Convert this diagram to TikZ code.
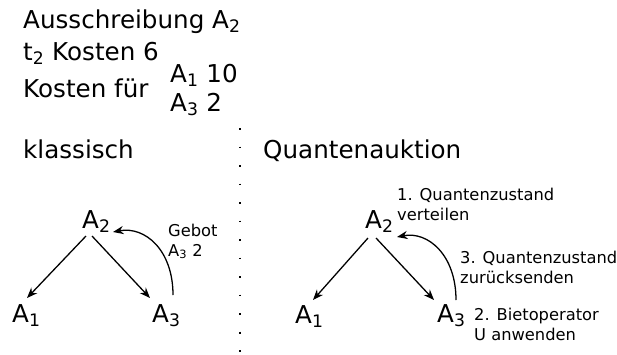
\documentclass[tikz,border=0pt]{standalone}
\usepackage{fontspec}
\setmainfont{DejaVu Sans}
\usetikzlibrary{arrows.meta}

\newcommand{\bigtxt}{\fontsize{21}{25}\selectfont}
\newcommand{\smalltxt}{\fontsize{13.9}{16.6}\selectfont}

\begin{document}
\begin{tikzpicture}[
    x=0.03cm, y=-0.03cm,
    big/.style={font=\bigtxt, inner sep=0pt, anchor=base west},
    small/.style={font=\smalltxt, inner sep=0pt, anchor=base west, align=left},
    arr/.style={-{Stealth[length=9pt, width=7pt]}, line width=1.1pt},
]
    \useasboundingbox (0,0) rectangle (617,354);

    % Header
    \node[big] (title) at (23,28) {Ausschreibung A\textsubscript{2}};
    \node[big] (task) at (23,60) {t\textsubscript{2} Kosten 6};
    \node[big] (costs) at (23,97) {Kosten für};
    \node[big] (cost1) at (170,82) {A\textsubscript{1} 10};
    \node[big] (cost3) at (170,111) {A\textsubscript{3} 2};

    % Separator
    \draw[line width=1.6pt, dash pattern=on 1.6pt off 14.2pt] (240,128) -- (240,354);

    % Left: classical
    \node[big] (classic) at (23,158) {klassisch};
    \node[big] (la2) at (82,228) {A\textsubscript{2}};
    \node[big] (la1) at (12,322) {A\textsubscript{1}};
    \node[big] (la3) at (152,322) {A\textsubscript{3}};
    \draw[arr] ([shift={(4,8)}]la2.base west) -- ([shift={(15,-24)}]la1.base west);
    \draw[arr] ([shift={(10,8)}]la2.base west) -- ([shift={(-2,-24)}]la3.base west);
    \draw[arr] ([shift={(21,-27)}]la3.base west) .. controls (173,250) and (145,226) .. ([shift={(31,4)}]la2.base west);
    \node[small] (bid) at (168,256) {Gebot\\A\textsubscript{3} 2};

    % Right: quantum auction
    \node[big] (quantum) at (263,158) {Quantenauktion};
    \node[big] (ra2) at (365,228) {A\textsubscript{2}};
    \node[big] (ra1) at (295,323) {A\textsubscript{1}};
    \node[big] (ra3) at (437,322) {A\textsubscript{3}};
    \draw[arr] ([shift={(3,10)}]ra2.base west) -- ([shift={(18,-23)}]ra1.base west);
    \draw[arr] ([shift={(11,10)}]ra2.base west) -- ([shift={(-3,-22)}]ra3.base west);
    \draw[arr] ([shift={(19,-22)}]ra3.base west) .. controls (456,255) and (428,231) .. ([shift={(32,9)}]ra2.base west);
    \node[small] (step1) at (397,220) {1. Quantenzustand\\verteilen};
    \node[small] (step3) at (460,283) {3. Quantenzustand\\zurücksenden};
    \node[small] (step2) at (474,340) {2. Bietoperator\\U anwenden};
\end{tikzpicture}
\end{document}
